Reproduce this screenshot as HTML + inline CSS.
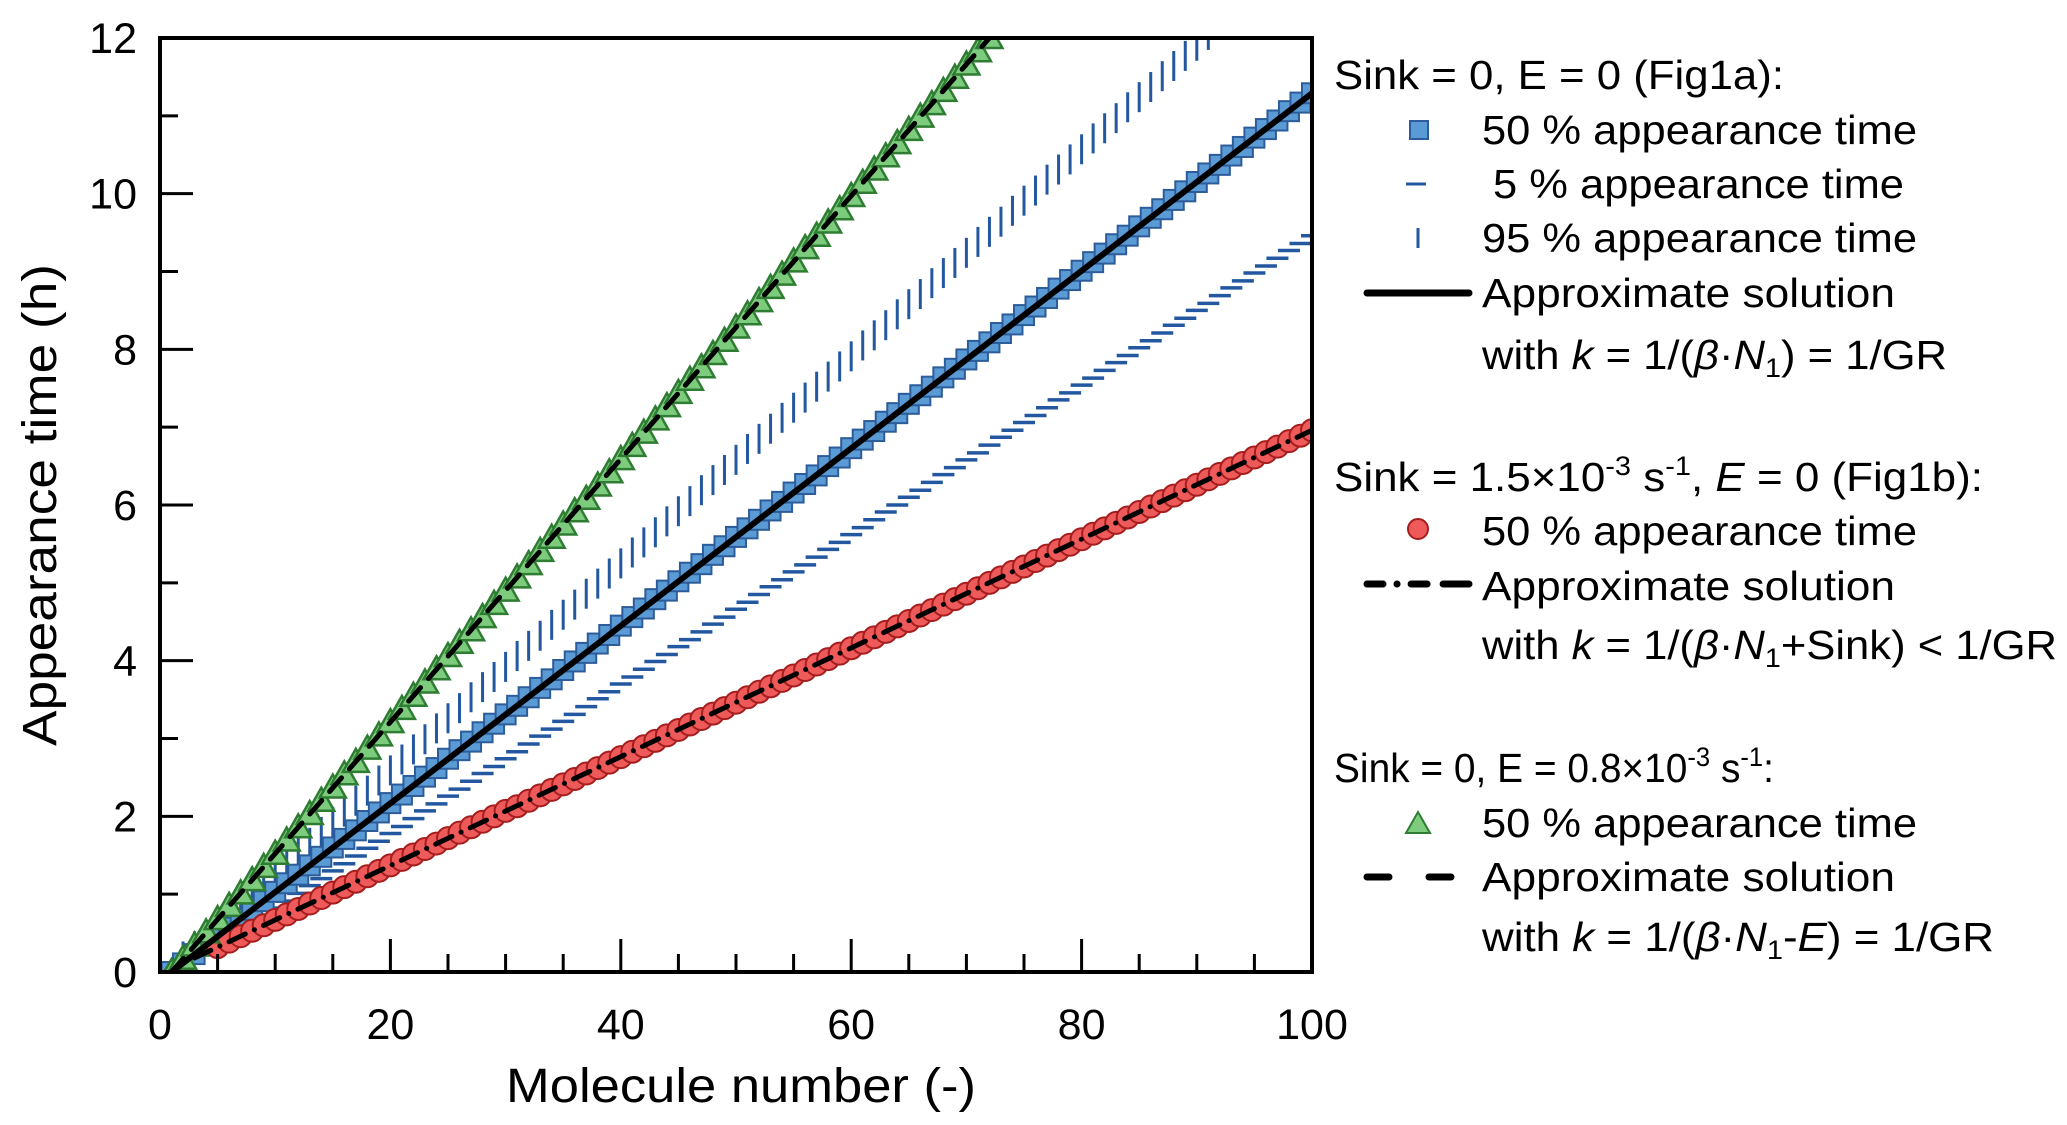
<!DOCTYPE html>
<html><head><meta charset="utf-8"><style>
html,body{margin:0;padding:0;background:#fff;}
svg{display:block;}
text{font-family:"Liberation Sans Narrow","Liberation Sans",sans-serif;fill:#000;}
</style></head><body>
<svg id="chart" width="2067" height="1125" viewBox="0 0 2067 1125" xmlns="http://www.w3.org/2000/svg">
<g id="marks"></g>
<g id="axes"></g>
<text x="741" y="1102" font-size="48" text-anchor="middle" textLength="470" lengthAdjust="spacingAndGlyphs">Molecule number (-)</text>
<text transform="translate(56,505) rotate(-90)" font-size="48" text-anchor="middle" textLength="482" lengthAdjust="spacingAndGlyphs">Appearance time (h)</text>
<g font-size="41">
  <text x="1334" y="89" textLength="450" lengthAdjust="spacingAndGlyphs">Sink = 0, E = 0 (Fig1a):</text>
  <rect x="1410" y="121" width="18" height="18" fill="#5b9bd5" stroke="#2c5c99" stroke-width="2"/>
  <text x="1482" y="144" textLength="435" lengthAdjust="spacingAndGlyphs">50 % appearance time</text>
  <line x1="1406" y1="184" x2="1426" y2="184" stroke="#2358a0" stroke-width="3"/>
  <text x="1493" y="198" textLength="411" lengthAdjust="spacingAndGlyphs">5 % appearance time</text>
  <line x1="1418" y1="228" x2="1418" y2="248" stroke="#2358a0" stroke-width="3"/>
  <text x="1482" y="252" textLength="435" lengthAdjust="spacingAndGlyphs">95 % appearance time</text>
  <line x1="1367" y1="293" x2="1469" y2="293" stroke="#000" stroke-width="7" stroke-linecap="round"/>
  <text x="1482" y="307" textLength="413" lengthAdjust="spacingAndGlyphs">Approximate solution</text>
  <text x="1482" y="369" textLength="465" lengthAdjust="spacingAndGlyphs">with <tspan font-style="italic">k</tspan> = 1/(<tspan font-style="italic">β</tspan>·<tspan font-style="italic">N</tspan><tspan font-size="27" dy="8">1</tspan><tspan dy="-8">) = 1/GR</tspan></text>

  <text x="1334" y="491" textLength="649" lengthAdjust="spacingAndGlyphs">Sink = 1.5×10<tspan font-size="27" dy="-16">-3</tspan><tspan dy="16"> s</tspan><tspan font-size="27" dy="-16">-1</tspan><tspan dy="16">, </tspan><tspan font-style="italic">E</tspan> = 0 (Fig1b):</text>
  <circle cx="1418" cy="529" r="10" fill="#ee5a5a" stroke="#a51d1d" stroke-width="2"/>
  <text x="1482" y="545" textLength="435" lengthAdjust="spacingAndGlyphs">50 % appearance time</text>
  <line x1="1367" y1="584" x2="1469" y2="584" stroke="#000" stroke-width="7" stroke-linecap="round" stroke-dasharray="16 14 0.1 14 16"/>
  <text x="1482" y="600" textLength="413" lengthAdjust="spacingAndGlyphs">Approximate solution</text>
  <text x="1482" y="659" textLength="575" lengthAdjust="spacingAndGlyphs">with <tspan font-style="italic">k</tspan> = 1/(<tspan font-style="italic">β</tspan>·<tspan font-style="italic">N</tspan><tspan font-size="27" dy="8">1</tspan><tspan dy="-8">+Sink) &lt; 1/GR</tspan></text>

  <text x="1334" y="782" textLength="440" lengthAdjust="spacingAndGlyphs">Sink = 0, E = 0.8×10<tspan font-size="27" dy="-16">-3</tspan><tspan dy="16"> s</tspan><tspan font-size="27" dy="-16">-1</tspan><tspan dy="16">:</tspan></text>
  <polygon points="1418,812 1430,833 1406,833" fill="#7dcc7d" stroke="#2e7d32" stroke-width="2"/>
  <text x="1482" y="837" textLength="435" lengthAdjust="spacingAndGlyphs">50 % appearance time</text>
  <line x1="1367" y1="877" x2="1469" y2="877" stroke="#000" stroke-width="7" stroke-linecap="round" stroke-dasharray="22 40"/>
  <text x="1482" y="891" textLength="413" lengthAdjust="spacingAndGlyphs">Approximate solution</text>
  <text x="1482" y="951" textLength="512" lengthAdjust="spacingAndGlyphs">with <tspan font-style="italic">k</tspan> = 1/(<tspan font-style="italic">β</tspan>·<tspan font-style="italic">N</tspan><tspan font-size="27" dy="8">1</tspan><tspan dy="-8">-</tspan><tspan font-style="italic">E</tspan>) = 1/GR</text>
</g>
</svg>
<script>
const xTicksMajor = [0, 20, 40, 60, 80, 100];
const yTicksMajor = [0, 2, 4, 6, 8, 10, 12];
const sq50Start = 1;
const sq50 = [0,0.11,0.23,0.34,0.46,0.57,0.68,0.80,0.91,1.03,1.14,1.25,1.37,1.48,1.60,1.71,1.82,1.94,2.05,2.17,2.28,2.39,2.51,2.62,2.74,2.85,2.96,3.08,3.19,3.31,3.42,3.53,3.65,3.76,3.88,3.99,4.10,4.22,4.33,4.45,4.56,4.67,4.79,4.90,5.02,5.13,5.24,5.36,5.47,5.59,5.70,5.81,5.93,6.04,6.16,6.27,6.38,6.50,6.61,6.73,6.84,6.95,7.07,7.18,7.30,7.41,7.52,7.64,7.75,7.87,7.98,8.09,8.21,8.32,8.44,8.55,8.66,8.78,8.89,9.01,9.12,9.23,9.35,9.46,9.58,9.69,9.80,9.92,10.03,10.15,10.26,10.37,10.49,10.60,10.72,10.83,10.94,11.06,11.17,11.29];
const p5Start = 2;
const p5 = [0.05,0.15,0.24,0.34,0.43,0.53,0.63,0.72,0.82,0.91,1.01,1.11,1.20,1.30,1.39,1.49,1.59,1.68,1.78,1.87,1.97,2.07,2.16,2.26,2.35,2.45,2.55,2.64,2.74,2.83,2.93,3.03,3.12,3.22,3.31,3.41,3.51,3.60,3.70,3.79,3.89,3.99,4.08,4.18,4.27,4.37,4.47,4.56,4.66,4.75,4.85,4.95,5.04,5.14,5.23,5.33,5.43,5.52,5.62,5.71,5.81,5.91,6.00,6.10,6.19,6.29,6.39,6.48,6.58,6.67,6.77,6.87,6.96,7.06,7.15,7.25,7.35,7.44,7.54,7.63,7.73,7.83,7.92,8.02,8.11,8.21,8.31,8.40,8.50,8.59,8.69,8.79,8.88,8.98,9.07,9.17,9.27,9.36,9.46];
const p95Start = 2;
const p95 = [0.20,0.33,0.47,0.60,0.73,0.87,1.00,1.13,1.26,1.40,1.53,1.66,1.80,1.93,2.06,2.20,2.33,2.46,2.59,2.73,2.86,2.99,3.13,3.26,3.39,3.53,3.66,3.79,3.92,4.06,4.19,4.32,4.46,4.59,4.72,4.86,4.99,5.12,5.25,5.39,5.52,5.65,5.79,5.92,6.05,6.19,6.32,6.45,6.58,6.72,6.85,6.98,7.12,7.25,7.38,7.52,7.65,7.78,7.91,8.05,8.18,8.31,8.45,8.58,8.71,8.85,8.98,9.11,9.24,9.38,9.51,9.64,9.78,9.91,10.04,10.18,10.31,10.44,10.57,10.71,10.84,10.97,11.11,11.24,11.37,11.51,11.64,11.77,11.90,12.04];
const sinkStart = 5;
const sink50 = [0.32,0.39,0.46,0.53,0.60,0.67,0.74,0.81,0.88,0.95,1.02,1.09,1.16,1.23,1.30,1.37,1.44,1.51,1.58,1.65,1.72,1.79,1.86,1.93,2.00,2.07,2.13,2.20,2.27,2.34,2.41,2.48,2.55,2.62,2.69,2.76,2.83,2.90,2.97,3.04,3.11,3.18,3.25,3.32,3.39,3.46,3.53,3.60,3.67,3.74,3.81,3.88,3.95,4.02,4.09,4.16,4.23,4.30,4.37,4.44,4.51,4.58,4.65,4.72,4.79,4.86,4.93,5.00,5.07,5.14,5.21,5.28,5.35,5.42,5.49,5.56,5.63,5.70,5.77,5.84,5.91,5.98,6.05,6.12,6.19,6.26,6.33,6.40,6.47,6.54,6.61,6.68,6.75,6.82,6.89,6.96];
const eStart = 1;
const e50 = [0,0.17,0.34,0.51,0.68,0.85,1.01,1.18,1.35,1.52,1.69,1.86,2.03,2.20,2.37,2.54,2.70,2.87,3.04,3.21,3.38,3.55,3.72,3.89,4.06,4.23,4.39,4.56,4.73,4.90,5.07,5.24,5.41,5.58,5.75,5.92,6.08,6.25,6.42,6.59,6.76,6.93,7.10,7.27,7.44,7.61,7.77,7.94,8.11,8.28,8.45,8.62,8.79,8.96,9.13,9.30,9.46,9.63,9.80,9.97,10.14,10.31,10.48,10.65,10.82,10.99,11.15,11.32,11.49,11.66,11.83,12.00];
const approxFig1aN = [1, 100];
const approxFig1aT = [0, 11.29];
const approxSinkN = [3, 100];
const approxSinkT = [0.18, 6.96];
const approxEN = [1, 72];
const approxET = [0, 12.0];

const NS = "http://www.w3.org/2000/svg";
const X0 = 160, X1 = 1312, Y0 = 972, Y1 = 38;
function xs(v){ return X0 + (v - 0) / 100 * (X1 - X0); }
function ys(v){ return Y0 - v / 12 * (Y0 - Y1); }
function mk(tag, attrs, parent){ const e = document.createElementNS(NS, tag); for (const k in attrs) e.setAttribute(k, attrs[k]); parent.appendChild(e); return e; }
const marks = document.getElementById('marks');
const axes = document.getElementById('axes');
const clip = mk('clipPath', {id:'pc'}, marks);
mk('rect', {x:X0, y:Y1, width:X1-X0, height:Y0-Y1}, clip);
const g = mk('g', {'clip-path':'url(#pc)'}, marks);

p95.forEach((v,i)=>{
  const x = xs(p95Start+i), y = ys(v);
  const el = mk('line', {x1:x, y1:y-15, x2:x, y2:y+15, stroke:'#2358a0', 'stroke-width':3}, g);
  
  
});
p5.forEach((v,i)=>{
  const x = xs(p5Start+i), y = ys(v);
  const el = mk('line', {x1:x-11, y1:y, x2:x+11, y2:y, stroke:'#2358a0', 'stroke-width':3.5}, g);
  
  
});
sq50.forEach((v,i)=>{
  const x = xs(sq50Start+i), y = ys(v);
  const el = mk('rect', {x:x-10, y:y-10, width:20, height:20, fill:'#5b9bd5', stroke:'#2c5c99', 'stroke-width':2}, g);
  
  
});
sink50.forEach((v,i)=>{
  const x = xs(sinkStart+i), y = ys(v);
  const el = mk('circle', {cx:x, cy:y, r:11, fill:'#ee5a5a', stroke:'#a51d1d', 'stroke-width':2}, g);
  
  
});
e50.forEach((v,i)=>{
  const x = xs(eStart+i), y = ys(v);
  const el = mk('polygon', {points:`${x},${y-13} ${x+13},${y+10} ${x-13},${y+10}`, fill:'#7dcc7d', stroke:'#2e7d32', 'stroke-width':2.5}, g);
  
  
});
let l1 = mk('line', {x1:xs(approxFig1aN[0]), y1:ys(approxFig1aT[0]), x2:xs(approxFig1aN[1]), y2:ys(approxFig1aT[1]), stroke:'#000', 'stroke-width':6}, g);


let l2 = mk('line', {x1:xs(approxSinkN[0]), y1:ys(approxSinkT[0]), x2:xs(approxSinkN[1]), y2:ys(approxSinkT[1]), stroke:'#000', 'stroke-width':5, 'stroke-dasharray':'18 10 0.1 10', 'stroke-linecap':'round'}, g);


let l3 = mk('line', {x1:xs(approxEN[0]), y1:ys(approxET[0]), x2:xs(approxEN[1]), y2:ys(approxET[1]), stroke:'#000', 'stroke-width':5, 'stroke-dasharray':'18 12', 'stroke-linecap':'round'}, g);



let fr = mk('rect', {x:X0, y:Y1, width:X1-X0, height:Y0-Y1, fill:'none', stroke:'#000', 'stroke-width':4}, axes);


for (let v = 0; v <= 100; v += 5) {
  const major = xTicksMajor.includes(v);
  const t = mk('line', {x1:xs(v), y1:Y0, x2:xs(v), y2:Y0-(major?33:18), stroke:'#000', 'stroke-width':3}, axes);
  
  
}
for (let v = 0; v <= 12; v += 1) {
  const major = yTicksMajor.includes(v);
  const t = mk('line', {x1:X0, y1:ys(v), x2:X0+(major?33:18), y2:ys(v), stroke:'#000', 'stroke-width':3}, axes);
  
  
}
xTicksMajor.forEach(v=>{
  const t = mk('text', {x:xs(v), y:1039, 'font-size':43, 'text-anchor':'middle'}, axes);
  t.textContent = String(v);
  
  
});
yTicksMajor.forEach(v=>{
  const t = mk('text', {x:137, y:ys(v)+15, 'font-size':43, 'text-anchor':'end'}, axes);
  t.textContent = String(v);
  
  
});
</script>
</body></html>
